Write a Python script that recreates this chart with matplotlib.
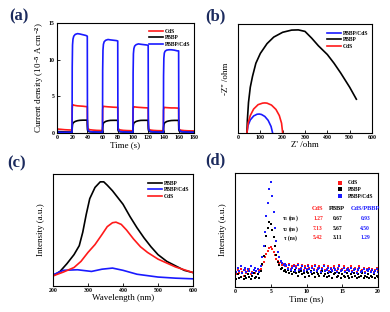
import numpy as np
import matplotlib
matplotlib.use('Agg')
import matplotlib.pyplot as plt

plt.rcParams['font.family'] = 'serif'
plt.rcParams['font.serif'] = ['Liberation Serif', 'DejaVu Serif']
plt.rcParams['font.weight'] = 'bold'
plt.rcParams['mathtext.fontset'] = 'custom'
plt.rcParams['mathtext.rm'] = 'Liberation Serif:bold'
plt.rcParams['mathtext.it'] = 'Liberation Serif:italic:bold'
plt.rcParams['mathtext.default'] = 'rm'

# (a) transient photocurrent
t_a = [0, 5, 10, 15, 19.8,
       20, 20.4, 21, 22, 24, 27, 30, 34, 38, 39.8,
       40, 40.4, 41, 43, 47, 52, 59.8,
       60, 60.4, 61, 62, 64, 67, 70, 74, 78, 79.8,
       80, 80.4, 81, 83, 87, 92, 99.8,
       100, 100.4, 101, 102, 104, 107, 110, 114, 118, 119.8,
       120, 120.4, 121, 123, 127, 132, 139.8,
       140, 140.4, 141, 142, 144, 147, 150, 154, 158, 159.8,
       160, 160.4, 161, 163, 167, 172, 180]
j_composite = [0.12, 0.1, 0.1, 0.1, 0.1,
               9.0, 12.0, 12.8, 13.2, 13.45, 13.55, 13.5, 13.4, 13.3, 13.2,
               2.0, 0.6, 0.35, 0.2, 0.15, 0.12, 0.1,
               8.5, 11.3, 12.1, 12.45, 12.65, 12.75, 12.7, 12.65, 12.6, 12.55,
               2.0, 0.6, 0.35, 0.2, 0.15, 0.12, 0.1,
               8.2, 10.8, 11.5, 11.85, 12.05, 12.15, 12.1, 12.05, 12.0, 11.95,
               2.0, 0.6, 0.35, 0.2, 0.15, 0.12, 0.1,
               7.8, 10.2, 10.9, 11.15, 11.3, 11.35, 11.35, 11.3, 11.2, 11.2,
               2.0, 0.6, 0.35, 0.2, 0.15, 0.12, 0.1]
j_cds = [0.55, 0.5, 0.45, 0.42, 0.4,
         3.3, 3.75, 3.85, 3.8, 3.75, 3.7, 3.68, 3.65, 3.6, 3.6,
         1.2, 0.7, 0.55, 0.45, 0.4, 0.36, 0.33,
         3.2, 3.55, 3.65, 3.62, 3.6, 3.57, 3.55, 3.52, 3.5, 3.5,
         1.2, 0.65, 0.5, 0.42, 0.36, 0.33, 0.3,
         3.15, 3.5, 3.58, 3.56, 3.53, 3.5, 3.48, 3.45, 3.43, 3.43,
         1.1, 0.6, 0.48, 0.4, 0.35, 0.32, 0.3,
         3.1, 3.42, 3.5, 3.48, 3.46, 3.44, 3.42, 3.42, 3.4, 3.4,
         1.1, 0.6, 0.45, 0.38, 0.33, 0.3, 0.28]
j_pbbp = [0.2, 0.18, 0.15, 0.14, 0.13,
          0.7, 1.15, 1.35, 1.45, 1.58, 1.68, 1.73, 1.75, 1.75, 1.75,
          0.5, 0.3, 0.22, 0.17, 0.14, 0.12, 0.11,
          0.7, 1.15, 1.35, 1.45, 1.58, 1.67, 1.72, 1.73, 1.73, 1.73,
          0.5, 0.3, 0.22, 0.17, 0.14, 0.12, 0.11,
          0.7, 1.15, 1.35, 1.45, 1.58, 1.67, 1.72, 1.73, 1.73, 1.73,
          0.5, 0.3, 0.22, 0.17, 0.14, 0.12, 0.11,
          0.7, 1.12, 1.32, 1.43, 1.56, 1.65, 1.7, 1.72, 1.72, 1.72,
          0.5, 0.3, 0.22, 0.17, 0.14, 0.12, 0.11]

# (b) Nyquist plots
zre_pbbp = [40, 42, 47, 55, 65, 80, 100, 130, 160, 200, 240, 270, 300, 330, 360, 400, 430, 460, 500, 530]
zim_pbbp = [0, 60, 140, 210, 260, 320, 365, 410, 440, 462, 472, 473, 466, 435, 400, 360, 320, 275, 210, 155]
zre_cds = [40, 45, 55, 70, 90, 110, 120, 130, 150, 170, 185, 195, 200]
zim_cds = [0, 45, 80, 110, 130, 137, 138, 137, 128, 108, 80, 45, 0]
zre_comp = [40, 45, 55, 70, 85, 95, 105, 120, 135, 148, 155]
zim_comp = [0, 35, 60, 78, 86, 87, 85, 76, 58, 30, 0]

# (c) PL spectra
wl_pbbp = [200, 220, 240, 260, 275, 285, 295, 305, 320, 335, 345, 355, 370, 385,
           400, 420, 440, 460, 480, 500, 525, 550, 575, 600]
pl_pbbp = [0.09, 0.13, 0.2, 0.28, 0.36, 0.48, 0.64, 0.78, 0.88, 0.93, 0.93, 0.9, 0.85, 0.79,
           0.73, 0.62, 0.52, 0.43, 0.35, 0.28, 0.22, 0.18, 0.14, 0.12]
wl_cds = [200, 230, 260, 280, 300, 320, 340, 355, 370, 380, 395, 410, 430, 450, 470, 500, 550, 600]
pl_cds = [0.09, 0.125, 0.165, 0.22, 0.3, 0.37, 0.46, 0.53, 0.565, 0.57, 0.55, 0.5, 0.42, 0.35,
          0.3, 0.24, 0.17, 0.12]
wl_comp = [200, 230, 270, 310, 340, 370, 400, 440, 500, 550, 600]
pl_comp = [0.10, 0.14, 0.145, 0.13, 0.15, 0.16, 0.14, 0.105, 0.08, 0.07, 0.064]

# (d) TRPL decays, 0.2 ns channels
t_d = np.arange(0, 20.001, 0.2)
trpl_pbbp = [0.10, 0.07, 0.11, 0.08, 0.09, 0.12, 0.07, 0.10, 0.08, 0.11, 0.09, 0.07, 0.10, 0.12, 0.08, 0.09, 0.11, 0.08,
             0.14, 0.20, 0.27, 0.36, 0.45, 0.52, 0.57, 0.55, 0.50, 0.44, 0.36, 0.28, 0.22, 0.19, 0.16, 0.17, 0.14, 0.15,
             0.13, 0.15, 0.12, 0.14, 0.11, 0.13, 0.15, 0.12, 0.10, 0.13, 0.14, 0.11, 0.12, 0.09, 0.13, 0.12, 0.10, 0.14, 0.11, 0.12,
             0.09, 0.13, 0.11, 0.10, 0.12, 0.14, 0.10, 0.11, 0.09, 0.12, 0.10, 0.13, 0.08, 0.11, 0.12, 0.09, 0.10, 0.12, 0.08, 0.11,
             0.10, 0.09, 0.12, 0.10, 0.08, 0.11, 0.09, 0.12, 0.10, 0.08, 0.11, 0.09, 0.10, 0.12, 0.08, 0.10, 0.09, 0.11, 0.08, 0.10,
             0.09, 0.11, 0.08, 0.10, 0.09]
trpl_cds = [0.14, 0.11, 0.15, 0.12, 0.16, 0.13, 0.10, 0.15, 0.12, 0.14, 0.16, 0.11, 0.13, 0.15, 0.12, 0.14, 0.11, 0.15,
            0.16, 0.19, 0.22, 0.26, 0.29, 0.32, 0.34, 0.35, 0.33, 0.31, 0.28, 0.25, 0.23, 0.21, 0.22, 0.19, 0.20, 0.18,
            0.19, 0.17, 0.20, 0.16, 0.18, 0.19, 0.15, 0.18, 0.20, 0.16, 0.17, 0.19, 0.15, 0.18, 0.16, 0.19, 0.17, 0.14, 0.18, 0.16,
            0.19, 0.15, 0.17, 0.18, 0.14, 0.17, 0.19, 0.15, 0.16, 0.18, 0.14, 0.17, 0.15, 0.18, 0.16, 0.14, 0.17, 0.19, 0.15, 0.16,
            0.18, 0.14, 0.16, 0.17, 0.15, 0.18, 0.14, 0.16, 0.17, 0.13, 0.16, 0.18, 0.14, 0.15, 0.17, 0.13, 0.16, 0.15, 0.17, 0.14,
            0.16, 0.13, 0.15, 0.17, 0.14]
trpl_comp = [0.16, 0.13, 0.17, 0.14, 0.18, 0.12, 0.15, 0.17, 0.13, 0.16, 0.14, 0.18, 0.12, 0.15, 0.17, 0.14, 0.16, 0.13,
             0.18, 0.26, 0.36, 0.48, 0.62, 0.74, 0.86, 0.92, 0.80, 0.66, 0.52, 0.40, 0.31, 0.26, 0.23, 0.21, 0.19, 0.20,
             0.18, 0.16, 0.19, 0.15, 0.17, 0.18, 0.14, 0.17, 0.19, 0.15, 0.16, 0.18, 0.14, 0.17, 0.15, 0.18, 0.16, 0.13, 0.17, 0.15,
             0.18, 0.14, 0.16, 0.17, 0.13, 0.16, 0.18, 0.14, 0.15, 0.17, 0.13, 0.16, 0.14, 0.17, 0.15, 0.13, 0.16, 0.18, 0.14, 0.15,
             0.17, 0.13, 0.15, 0.16, 0.14, 0.17, 0.13, 0.15, 0.16, 0.12, 0.15, 0.17, 0.13, 0.14, 0.16, 0.12, 0.15, 0.14, 0.16, 0.13,
             0.15, 0.12, 0.14, 0.16, 0.13]

fit_cols = ['CdS', 'PBBP', 'CdS/PBBP']
fit_rows = ['τ$_1$ (ns)', 'τ$_2$ (ns)', 'τ (ns)']
fit_vals = [['1.27', '0.67', '0.93'],
            ['7.13', '5.67', '4.50'],
            ['5.42', '3.11', '1.29']]

RED, BLACK, BLUE = '#ff1a1a', '#000000', '#1a1aff'
NAVY = '#1c2b5e'
W, H = 390, 312

fig = plt.figure(figsize=(W / 100, H / 100), dpi=100)


def add_ax(l, t, r, b):
    return fig.add_axes([l / W, 1 - b / H, (r - l) / W, (b - t) / H])


def style(ax):
    for s in ax.spines.values():
        s.set_linewidth(0.8)
    ax.tick_params(direction='in', length=2, width=0.6, labelsize=4.2, pad=1.5)


leg_kw = dict(frameon=False, fontsize=4, handlelength=2.6, handletextpad=0.4,
              labelspacing=0.3, borderaxespad=0.2)

# (a)
ax = add_ax(57, 23, 194, 133)
ax.plot(t_a, j_cds, color=RED, lw=1.2, label='CdS')
ax.plot(t_a, j_pbbp, color=BLACK, lw=1.2, label='PBBP')
ax.plot(t_a, j_composite, color=BLUE, lw=1.2, label='PBBP/CdS')
ax.set_xlim(0, 180)
ax.set_ylim(0, 15)
ax.set_xticks(range(0, 181, 20))
ax.set_yticks([0, 5, 10, 15])
style(ax)
ax.set_xlabel('Time (s)', fontsize=6.5, labelpad=1)
ax.set_ylabel('Current density (10$^{-5}$ A cm$^{-2}$)', fontsize=6.5, labelpad=2)
ax.legend(loc='upper right', bbox_to_anchor=(1.0, 0.98), **leg_kw)

# (b)
ax = add_ax(238, 24, 372, 133)
ax.plot(zre_comp, zim_comp, color=BLUE, lw=1.2, label='PBBP/CdS')
ax.plot(zre_pbbp, zim_pbbp, color=BLACK, lw=1.2, label='PBBP')
ax.plot(zre_cds, zim_cds, color=RED, lw=1.2, label='CdS')
ax.set_xlim(0, 600)
ax.set_ylim(0, 500)
ax.set_xticks(range(0, 601, 100))
ax.set_yticks([])
style(ax)
ax.set_xlabel("Z' /ohm", fontsize=6.5, labelpad=1)
ax.set_ylabel("-Z'' /ohm", fontsize=6.5, labelpad=6)
ax.legend(loc='upper right', bbox_to_anchor=(1.0, 0.97), **leg_kw)

# (c)
ax = add_ax(53, 174, 193, 286)
ax.plot(wl_pbbp, pl_pbbp, color=BLACK, lw=1.2, label='PBBP')
ax.plot(wl_comp, pl_comp, color=BLUE, lw=1.2, label='PBBP/CdS')
ax.plot(wl_cds, pl_cds, color=RED, lw=1.2, label='CdS')
ax.set_xlim(200, 600)
ax.set_ylim(0, 1)
ax.set_xticks(range(200, 601, 100))
ax.set_yticks([])
style(ax)
ax.set_xlabel('Wavelength (nm)', fontsize=6.5, labelpad=1)
ax.set_ylabel('Intensity (a.u.)', fontsize=6.5, labelpad=6)
ax.legend(loc='upper right', bbox_to_anchor=(1.0, 0.97), **leg_kw)

# (d)
ax = add_ax(235, 173, 378, 287)
ax.scatter(t_d, trpl_cds, s=3, color=RED, marker='s', lw=0, label='CdS')
ax.scatter(t_d, trpl_pbbp, s=3, color=BLACK, marker='s', lw=0, label='PBBP')
ax.scatter(t_d, trpl_comp, s=3, color=BLUE, marker='s', lw=0, label='PBBP/CdS')
ax.set_xlim(0, 20)
ax.set_ylim(0, 1)
ax.set_xticks([0, 5, 10, 15, 20])
ax.set_yticks([])
style(ax)
ax.set_xlabel('Time (ns)', fontsize=6.5, labelpad=1)
ax.set_ylabel('Intensity (a.u.)', fontsize=6.5, labelpad=6)
ax.legend(loc='upper right', bbox_to_anchor=(1.0, 0.98), frameon=False, fontsize=4,
          handlelength=1, handletextpad=0.8, labelspacing=0.3, markerscale=1.3)
col_colors = [RED, BLACK, BLUE]
col_x = [0.58, 0.715, 0.91]
row_y = [0.69, 0.60, 0.51, 0.43]
for j, name in enumerate(fit_cols):
    ax.text(col_x[j], row_y[0], name, color=col_colors[j], fontsize=4.6,
            ha='center', va='center', transform=ax.transAxes)
for i, rname in enumerate(fit_rows):
    ax.text(0.39, row_y[i + 1], rname, fontsize=4, ha='center', va='center',
            transform=ax.transAxes)
    for j in range(3):
        ax.text(col_x[j], row_y[i + 1], fit_vals[i][j], color=col_colors[j], fontsize=4,
                ha='center', va='center', transform=ax.transAxes)

for lbl, x, y in [('(a)', 9, 16), ('(b)', 205, 16), ('(c)', 7, 163), ('(d)', 205, 160)]:
    fig.text(x / W, 1 - y / H, lbl, fontsize=12, color=NAVY, ha='left', va='center')

fig.savefig('out.png', dpi=100)
